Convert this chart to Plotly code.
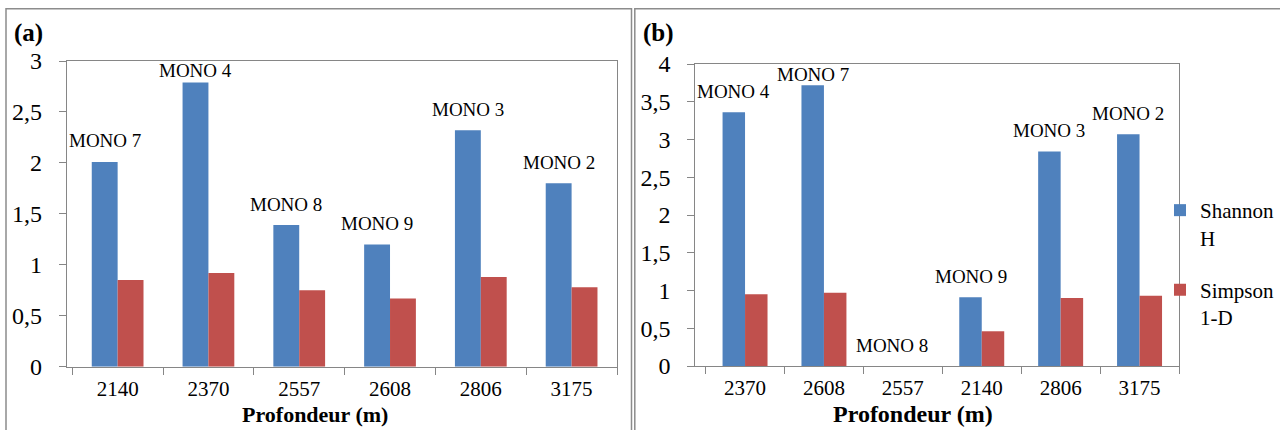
import plotly.graph_objects as go

# ---------------- data ----------------
left_depths = ["2140", "2370", "2557", "2608", "2806", "3175"]
left_shannon = [2.01, 2.79, 1.39, 1.20, 2.32, 1.80]
left_simpson = [0.85, 0.92, 0.75, 0.67, 0.88, 0.78]
left_labels = ["MONO 7", "MONO 4", "MONO 8", "MONO 9", "MONO 3", "MONO 2"]

right_depths = ["2370", "2608", "2557", "2140", "2806", "3175"]
right_shannon = [3.36, 3.72, 0.0, 0.91, 2.84, 3.07]
right_simpson = [0.95, 0.97, 0.0, 0.46, 0.90, 0.93]
right_labels = ["MONO 4", "MONO 7", "MONO 8", "MONO 9", "MONO 3", "MONO 2"]

series_names = ["Shannon<br>H", "Simpson<br>1-D"]
panel_tags = ["(a)", "(b)"]
x_title = "Profondeur (m)"
y_ranges = [3, 4]

# ---------------- style ----------------
W, H = 1280, 430
BLUE = "#4F81BD"
RED = "#C0504D"
AXIS = "#868686"
BORDER = "#8c8c8c"
FONT = "Liberation Serif"
BARGAP = 0.43

def fx(p):
    return p / W

def fy(p):
    return 1 - p / H

# plot areas in pixels: (left, right, top, bottom)
areas = [(66.7, 617.0, 61.0, 366.7), (695.3, 1179.0, 64.0, 366.0)]

fig = go.Figure()

panels = [
    (left_depths, left_shannon, left_simpson, left_labels),
    (right_depths, right_shannon, right_simpson, right_labels),
]

annotations = []
for k, (cats, sh, si, labs) in enumerate(panels):
    xa = "x" if k == 0 else "x2"
    ya = "y" if k == 0 else "y2"
    show = k == 1
    fig.add_trace(go.Bar(x=cats, y=sh, name=series_names[0], marker_color=BLUE,
                         marker_line_width=0, xaxis=xa, yaxis=ya,
                         legendgroup="sh", showlegend=show))
    fig.add_trace(go.Bar(x=cats, y=si, name=series_names[1], marker_color=RED,
                         marker_line_width=0, xaxis=xa, yaxis=ya,
                         legendgroup="si", showlegend=show))

    l, r, t, b = areas[k]
    ppu = (b - t) / y_ranges[k]
    off = (1 - BARGAP) / 4
    for i, (v, lab) in enumerate(zip(sh, labs)):
        ypx = min(v * ppu + 21, (b - t) - 10)
        annotations.append(dict(
            x=i - off, y=ypx / ppu, xref=xa, yref=ya, text=lab,
            showarrow=False, xanchor="center", yanchor="middle",
            font=dict(family=FONT, size=19, color="black")))

    # axis title (centred on panel)
    panel_center = [315.0, 913.0][k]
    annotations.append(dict(
        x=fx(panel_center), y=fy(414), xref="paper", yref="paper",
        text="<b>" + x_title + "</b>", showarrow=False,
        xanchor="center", yanchor="middle",
        font=dict(family=FONT, size=[22, 24][k], color="black")))
    # panel tag
    annotations.append(dict(
        x=fx([12, 641][k]), y=fy(33), xref="paper", yref="paper",
        text="<b>" + panel_tags[k] + "</b>", showarrow=False,
        xanchor="left", yanchor="middle",
        font=dict(family=FONT, size=25, color="black")))

def xaxis_cfg(k):
    l, r, t, b = areas[k]
    return dict(domain=[fx(l), fx(r)], anchor="y" if k == 0 else "y2",
                type="category", showline=True, linecolor=AXIS, linewidth=1,
                mirror=True, ticks="outside", tickson="boundaries", ticklen=7,
                tickcolor=AXIS, tickwidth=1, showgrid=False, automargin=False,
                tickfont=dict(family=FONT, size=21, color="black"),
                ticklabelstandoff=3)

def yaxis_cfg(k):
    l, r, t, b = areas[k]
    return dict(domain=[fy(b), fy(t)], anchor="x" if k == 0 else "x2",
                range=[0, y_ranges[k]], dtick=0.5, showline=True,
                linecolor=AXIS, linewidth=1, mirror=True, ticks="outside",
                ticklen=7, tickcolor=AXIS, tickwidth=1, showgrid=False,
                zeroline=False, ticklabelstandoff=12, automargin=False,
                tickfont=dict(family=FONT, size=24, color="black"))

shapes = [
    dict(type="rect", xref="paper", yref="paper", x0=fx(6), x1=fx(631.5),
         y0=fy(8.7), y1=fy(445), line=dict(color=BORDER, width=1.5)),
    dict(type="rect", xref="paper", yref="paper", x0=fx(634.8), x1=fx(1295),
         y0=fy(8.7), y1=fy(445), line=dict(color=BORDER, width=1.5)),
]

fig.update_layout(
    width=W, height=H, margin=dict(l=0, r=0, t=0, b=0, autoexpand=False),
    paper_bgcolor="white", plot_bgcolor="white",
    barmode="group", bargap=BARGAP, bargroupgap=0,
    separators=", ",
    xaxis=xaxis_cfg(0), yaxis=yaxis_cfg(0),
    xaxis2=xaxis_cfg(1), yaxis2=yaxis_cfg(1),
    annotations=annotations, shapes=shapes,
    legend=dict(x=fx(1160), y=fy(190), xanchor="left", yanchor="top",
                font=dict(family=FONT, size=21, color="black"),
                valign="top", traceorder="grouped", tracegroupgap=22,
                bgcolor="rgba(0,0,0,0)", borderwidth=0),
    font=dict(family=FONT, color="black"),
)

fig.write_html("out.html")
